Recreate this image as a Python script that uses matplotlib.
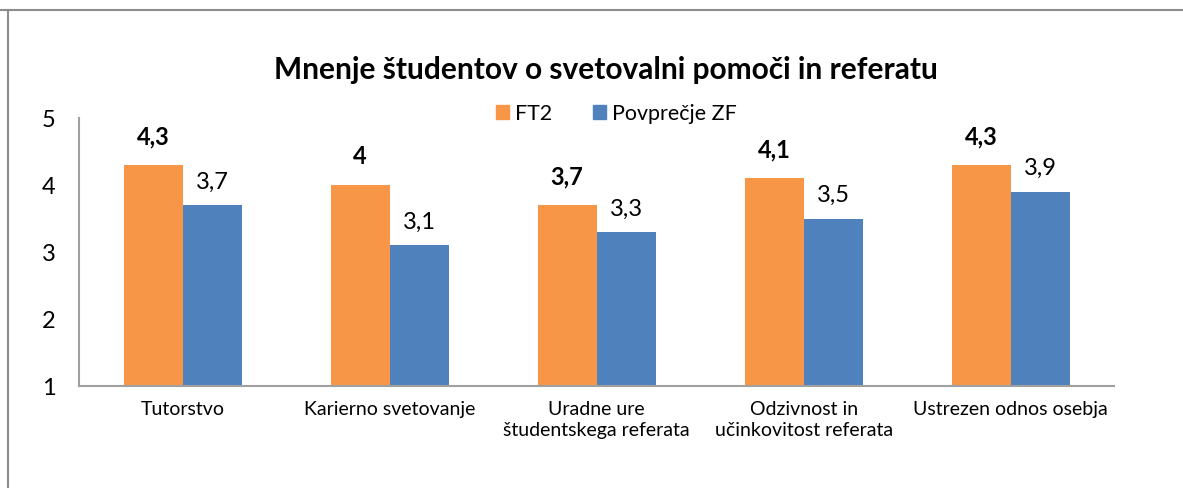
import matplotlib
matplotlib.use("Agg")
import matplotlib.pyplot as plt
import numpy as np
from matplotlib.lines import Line2D
from matplotlib.patches import Patch

plt.rcParams["font.family"] = ["Lato", "DejaVu Sans"]

# --- Data ---
categories = [
    "Tutorstvo",
    "Karierno svetovanje",
    "Uradne ure\nštudentskega referata",
    "Odzivnost in\nučinkovitost referata",
    "Ustrezen odnos osebja",
]
ft2 = [4.3, 4.0, 3.7, 4.1, 4.3]
zf_avg = [3.7, 3.1, 3.3, 3.5, 3.9]
series_names = ["FT2", "Povprečje ZF"]

ORANGE = "#F79646"
BLUE = "#4F81BD"
GRAY = "#A0A0A0"


def fmt(v):
    return f"{v:g}".replace(".", ",")


fig = plt.figure(figsize=(11.83, 4.88), dpi=100)
ax = fig.add_axes([0.0668, 0.209, 0.875, 0.549])

x = np.arange(len(categories))
width = 0.285
bars1 = ax.bar(x - width / 2, ft2, width, bottom=0, color=ORANGE)
bars2 = ax.bar(x + width / 2, zf_avg, width, bottom=0, color=BLUE)

for b, v in zip(bars1, ft2):
    ax.annotate(fmt(v), (b.get_x() + b.get_width() / 2, v), xytext=(0, 12),
                textcoords="offset points", ha="center", va="bottom",
                fontsize=17, fontweight="bold")
for b, v in zip(bars2, zf_avg):
    ax.annotate(fmt(v), (b.get_x() + b.get_width() / 2, v), xytext=(0, 9),
                textcoords="offset points", ha="center", va="bottom",
                fontsize=17)

ax.set_ylim(1, 5)
ax.set_xlim(-0.5, len(categories) - 0.5)
ax.set_yticks([1, 2, 3, 4, 5])
ax.tick_params(axis="y", length=0, pad=17, labelsize=17)
ax.set_xticks(x)
ax.set_xticklabels(categories, fontsize=14, linespacing=1.25)
ax.tick_params(axis="x", length=0, pad=11)

for side in ["top", "right"]:
    ax.spines[side].set_visible(False)
for side in ["left", "bottom"]:
    ax.spines[side].set_color(GRAY)
    ax.spines[side].set_linewidth(1.5)

fig.text(0.512, 0.857, "Mnenje študentov o svetovalni pomoči in referatu",
         ha="center", va="center", fontsize=21.5, fontweight="bold")

handles = [Patch(color=ORANGE), Patch(color=BLUE)]
fig.legend(handles, series_names, loc="center", bbox_to_anchor=(0.521, 0.767),
           ncol=2, frameon=False, fontsize=15.4, handlelength=0.6,
           handleheight=0.6, handletextpad=0.3, columnspacing=1.9)

# chart border (top and left edges visible)
fig.add_artist(Line2D([0, 1], [0.979, 0.979], transform=fig.transFigure,
                      color="#8C8C8C", linewidth=1.5))
fig.add_artist(Line2D([0.007, 0.007], [0, 0.979], transform=fig.transFigure,
                      color="#8C8C8C", linewidth=1.5))

fig.savefig("out.png", dpi=100)
